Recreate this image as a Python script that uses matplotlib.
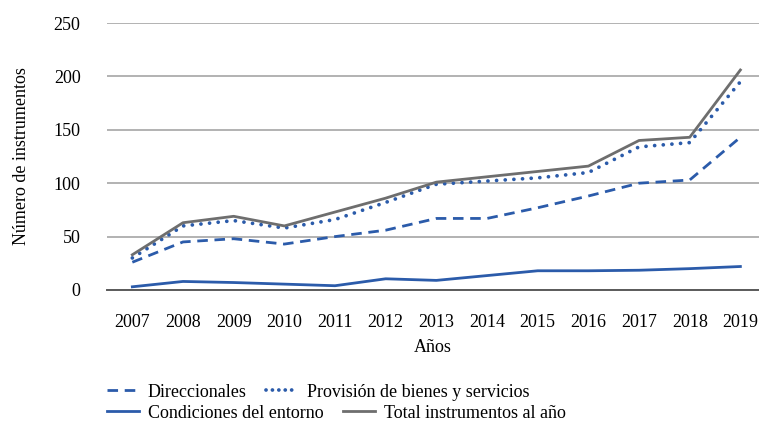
import matplotlib.pyplot as plt
from matplotlib.lines import Line2D

plt.rcParams['font.family'] = ['Liberation Serif', 'DejaVu Serif']

years = [2007, 2008, 2009, 2010, 2011, 2012, 2013, 2014, 2015, 2016, 2017, 2018, 2019]
direccionales = [26, 45, 48, 43, 50, 56, 67, 67, 77, 88, 100, 103, 143]
provision = [30, 60, 65, 58, 66, 82, 99, 102, 105, 110, 134, 138, 195]
condiciones = [3, 8, 7, 5.5, 4, 10.5, 9, 13.5, 18, 18, 18.5, 20, 22]
total = [33, 63, 69, 60, 73, 86, 101, 106, 111, 116, 140, 143, 206]

blue = '#2B5BAA'
grey = '#6E6E6E'
dashed = (0, (3.8, 2.4))
dotted = (0, (0.01, 2.3))

fig = plt.figure(figsize=(7.59, 4.23), dpi=100)
ax = fig.add_axes([107 / 759, 1 - 290 / 423, 652 / 759, 267 / 423])

ax.plot(years, direccionales, color=blue, lw=2.0, linestyle=dashed)
ax.plot(years, provision, color=blue, lw=2.7, linestyle=dotted, dash_capstyle='round')
ax.plot(years, condiciones, color=blue, lw=2.0)
ax.plot(years, total, color=grey, lw=2.0)

ax.set_xlim(2006.5, 2006.5 + 652 / 50.67)
ax.set_ylim(0, 250)
ax.set_yticks(range(0, 251, 50))
ax.set_xticks(years)
ax.tick_params(length=0, labelsize=13, colors='black')
ax.tick_params(axis='x', pad=17)
ax.tick_params(axis='y', pad=19)
ax.grid(axis='y', color='#A6A6A6', lw=1.2)
ax.set_axisbelow(True)
for s in ['top', 'right', 'left']:
    ax.spines[s].set_visible(False)
ax.spines['bottom'].set_color('#5A5A5A')
ax.spines['bottom'].set_linewidth(1.4)

ax.set_xlabel('Años', fontsize=13, labelpad=6)
ax.set_ylabel('Número de instrumentos', fontsize=13, labelpad=17)

# legend rows laid out independently, like the original
row1 = [Line2D([], [], color=blue, lw=2.0, linestyle=dashed),
        Line2D([], [], color=blue, lw=2.7, linestyle=(0, (0.01, 1.7)), dash_capstyle='round')]
row2 = [Line2D([], [], color=blue, lw=2.0),
        Line2D([], [], color=grey, lw=2.0)]
kw = dict(ncol=2, loc='center left', frameon=False, fontsize=13,
          handlelength=1.75, handletextpad=0.5, columnspacing=1.1,
          borderpad=0, borderaxespad=0)
fig.legend(row1, ['Direccionales', 'Provisión de bienes y servicios'],
           bbox_to_anchor=(107 / 759, 1 - 392 / 423), **kw)
fig.legend(row2, ['Condiciones del entorno', 'Total instrumentos al año'],
           bbox_to_anchor=(107 / 759, 1 - 413 / 423), **kw)

fig.savefig('out.png', dpi=100)
